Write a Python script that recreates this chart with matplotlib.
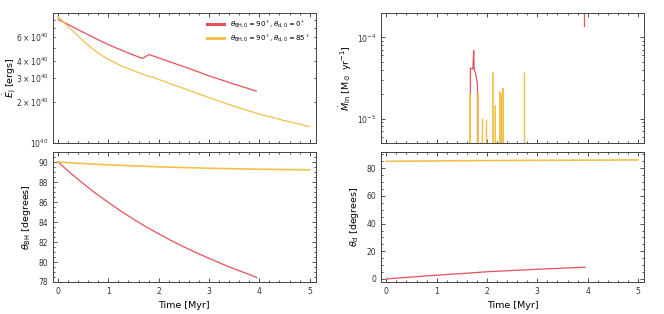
import numpy as np
import matplotlib
matplotlib.use("Agg")
import matplotlib.pyplot as plt
from matplotlib.ticker import AutoMinorLocator, MultipleLocator

# --- data (time in Myr) ---
red_label = r"$\theta_{\rm BH,0} = 90^\circ, \theta_{\rm d,0} = 0^\circ$"
yel_label = r"$\theta_{\rm BH,0} = 90^\circ, \theta_{\rm d,0} = 85^\circ$"

# jet power [1e40 erg]
ej_red_t = [0, 0.25, 0.5, 0.75, 1.0, 1.25, 1.5, 1.68, 1.745, 1.81, 2.0, 2.25, 2.5, 2.75, 3.0,
            3.25, 3.5, 3.75, 3.94]
ej_red_v = [8.09, 7.25, 6.5, 5.84, 5.27, 4.82, 4.42, 4.17, 4.32, 4.46, 4.21, 3.91, 3.63, 3.37, 3.11,
            2.90, 2.70, 2.53, 2.40]
ej_yel_t = [0, 0.16, 0.3, 0.45, 0.6, 0.75, 0.9, 1.06, 1.22, 1.45, 1.68, 1.92, 2.1, 2.21, 2.28, 2.35,
            2.42, 2.58, 2.8, 3.0, 3.25, 3.5, 3.75, 4.0, 4.5, 5.0]
ej_yel_v = [8.46, 7.42, 6.6, 5.85, 5.22, 4.72, 4.32, 4.0, 3.73, 3.45, 3.2, 3.0, 2.84, 2.74, 2.67, 2.63,
            2.57, 2.45, 2.29, 2.15, 2.0, 1.86, 1.74, 1.63, 1.46, 1.32]

# inflow rate [Msun/yr]
mi_red_t = [1.669, 1.67, 1.72, 1.735, 1.745, 1.76, 1.78, 1.80, 1.81, 1.811]
mi_red_v = [0, 4.17e-5, 4.1e-5, 6.9e-5, 4.0e-5, 3.8e-5, 3.4e-5, 2.9e-5, 2.6e-5, 0]
mi_red2_t = [3.925, 3.925]
mi_red2_v = [5e-4, 1.38e-4]
mi_yel_t = [1.66, 1.665, 1.675, 1.82, 1.825, 1.835, 1.905, 1.91, 1.915, 1.985, 1.99, 1.995,
            2.11, 2.115, 2.13, 2.16, 2.165, 2.175, 2.25, 2.255, 2.265, 2.29, 2.295, 2.305,
            2.315, 2.32, 2.33, 2.74, 2.745, 2.755]
mi_yel_v = [0, 2.02e-5, 0, 0, 2.06e-5, 0, 0, 9.8e-6, 0, 0, 9.35e-6, 0,
            0, 3.66e-5, 0, 0, 1.45e-5, 0, 0, 2.12e-5, 0, 0, 2.0e-5, 0,
            0, 2.37e-5, 0, 0, 3.65e-5, 0]

# black hole angle [deg]
bh_red_t = [0, 0.25, 0.5, 0.75, 1.0, 1.25, 1.5, 1.75, 2.0, 2.25, 2.5, 2.75, 3.0, 3.25, 3.5, 3.75, 3.95]
bh_red_v = [90, 88.89, 87.85, 86.86, 85.96, 85.09, 84.28, 83.52, 82.82, 82.14, 81.51, 80.93, 80.37,
            79.83, 79.32, 78.85, 78.45]
bh_yel_t = [0, 0.5, 1, 2, 3, 4, 5]
bh_yel_v = [90, 89.85, 89.72, 89.52, 89.38, 89.28, 89.22]

# disc angle [deg]
d_red_t = [0, 0.5, 1, 1.5, 2, 2.5, 3, 3.5, 3.95]
d_red_v = [0, 1.4, 2.7, 3.9, 5.2, 6.1, 7.0, 7.8, 8.5]
d_yel_t = [0, 1, 2, 3, 4, 5]
d_yel_v = [85.0, 85.3, 85.5, 85.7, 85.85, 86.0]

RED = "#e6515c"; YEL = "#f0c24b"
plt.rcParams.update({"font.size": 6, "xtick.labelsize": 5.5, "ytick.labelsize": 5.5,
                     "axes.labelsize": 6.8, "axes.edgecolor": "#444444", "axes.linewidth": 0.7,
                     "xtick.color": "#333333", "ytick.color": "#333333",
                     "xtick.direction": "in", "ytick.direction": "in", "xtick.top": True, "ytick.right": True,
                     "xtick.major.size": 3, "ytick.major.size": 3, "xtick.minor.size": 1.6, "ytick.minor.size": 1.6,
                     "xtick.minor.visible": True, "ytick.minor.visible": True})

fig, ax = plt.subplots(2, 2, figsize=(6.64, 3.14), dpi=100, sharex="col")
fig.subplots_adjust(left=53/664, right=644/664, top=1-13/314, bottom=1-282/314, hspace=0.07, wspace=0.25)
lw = 0.9

a = ax[0, 0]
a.plot(ej_red_t, np.array(ej_red_v) * 1e40, color=RED, lw=lw, label=red_label)
a.plot(ej_yel_t, np.array(ej_yel_v) * 1e40, color=YEL, lw=lw, label=yel_label)
a.set_yscale("log"); a.set_ylim(1e40, 9e40)
a.set_ylabel(r"$\dot{E}_{\rm j}$ [ergs]")
a.yaxis.set_label_coords(-0.135, 0.5)
leg = a.legend(loc="upper right", frameon=False, fontsize=5, handlelength=2.5)
for l in leg.get_lines():
    l.set_linewidth(2.2)

a = ax[0, 1]
a.plot(mi_red_t, mi_red_v, color=RED, lw=lw)
a.plot(mi_red2_t, mi_red2_v, color=RED, lw=lw)
a.plot(mi_yel_t, mi_yel_v, color=YEL, lw=lw)
a.set_yscale("log"); a.set_ylim(5e-6, 2e-4)
a.set_ylabel(r"$\dot{M}_{\rm in}$ [M$_\odot$ yr$^{-1}$]")
a.yaxis.set_label_coords(-0.103, 0.5)

a = ax[1, 0]
a.plot(bh_red_t, bh_red_v, color=RED, lw=lw)
a.plot(bh_yel_t, bh_yel_v, color=YEL, lw=1.2)
a.set_ylim(78, 91)
a.yaxis.set_major_locator(MultipleLocator(2))
a.set_ylabel(r"$\theta_{\rm BH}$ [degrees]")
a.yaxis.set_label_coords(-0.076, 0.5)
a.set_xlabel("Time [Myr]")

a = ax[1, 1]
a.plot(d_red_t, d_red_v, color=RED, lw=lw)
a.plot(d_yel_t, d_yel_v, color=YEL, lw=1.2)
a.set_ylim(-2.2, 91.7)
a.yaxis.set_major_locator(MultipleLocator(20))
a.set_ylabel(r"$\theta_{\rm d}$ [degrees]")
a.yaxis.set_label_coords(-0.076, 0.5)
a.set_xlabel("Time [Myr]")

for a in ax.flat:
    a.set_xlim(-0.1, 5.12)
    a.xaxis.set_major_locator(MultipleLocator(1))
    a.xaxis.set_minor_locator(AutoMinorLocator(5))
    if a.get_yscale() == "linear":
        a.yaxis.set_minor_locator(AutoMinorLocator(4))
    a.tick_params(which="both", width=0.6)

fig.savefig("out.png", dpi=100)
